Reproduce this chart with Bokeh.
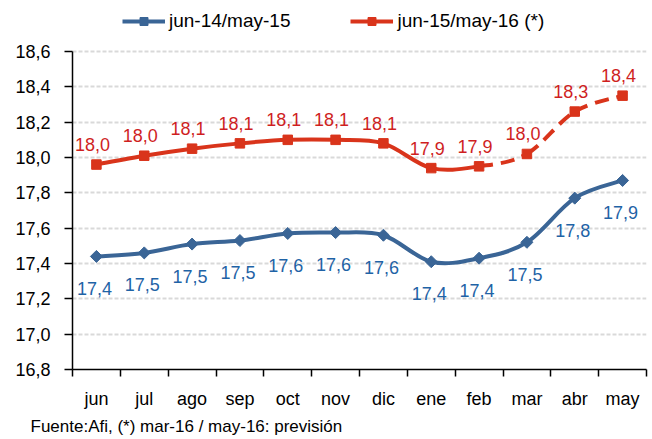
import numpy as np
from bokeh.plotting import figure
from bokeh.models import (Range1d, FixedTicker, CustomJSTickFormatter, Legend,
                          LegendItem, Title, ColumnDataSource)
from bokeh.core.properties import value
from bokeh.embed import file_html
from bokeh.resources import INLINE

# ---------------- data ----------------
months = ["jun", "jul", "ago", "sep", "oct", "nov", "dic", "ene", "feb", "mar", "abr", "may"]
serie_1415 = [17.44, 17.46, 17.51, 17.53, 17.57, 17.575, 17.56, 17.41, 17.43, 17.52, 17.77, 17.87]
serie_1516 = [17.96, 18.01, 18.05, 18.08, 18.10, 18.10, 18.08, 17.94, 17.95, 18.02, 18.26, 18.35]
labels_1415 = ["17,4", "17,5", "17,5", "17,5", "17,6", "17,6", "17,6", "17,4", "17,4", "17,5", "17,8", "17,9"]
labels_1516 = ["18,0", "18,0", "18,1", "18,1", "18,1", "18,1", "18,1", "17,9", "17,9", "18,0", "18,3", "18,4"]
forecast_from = "feb"          # dashed segment starts here (mar-16 / may-16 forecast)
y_ticks = [16.8, 17.0, 17.2, 17.4, 17.6, 17.8, 18.0, 18.2, 18.4, 18.6]
legend_names = ["jun-14/may-15", "jun-15/may-16 (*)"]
source_note = "Fuente:Afi, (*) mar-16 / may-16: previsión"

# ---------------- styles / layout ----------------
FONT = "Liberation Sans"
BLUE_LINE = "#3A6596"
BLUE_TEXT = "#1F63A6"
RED_LINE = "#D9341B"
RED_TEXT = "#CF1F1F"

W, H = 652, 439
BORDER_LEFT, BORDER_RIGHT, BORDER_BOTTOM = 72, 6, 70
AXIS_PX = 318                      # pixel height of the value axis (16.8 .. 18.6)
FRAME_PX = H - BORDER_BOTTOM       # frame extends to the top of the figure (room for legend)
y_lo, y_hi = y_ticks[0], y_ticks[-1]
y_top = y_lo + (y_hi - y_lo) * FRAME_PX / AXIS_PX

xs = np.arange(len(months), dtype=float)
nan_y = [np.nan] * len(months)


def smooth_segments(x, y):
    """Bezier segments (Catmull-Rom style) between consecutive data points."""
    x = np.asarray(x, float)
    y = np.asarray(y, float)
    n = len(x)
    out = {k: [] for k in ["x0", "y0", "x1", "y1", "cx0", "cy0", "cx1", "cy1"]}
    for i in range(n - 1):
        a = i - 1 if i > 0 else i
        d = i + 2 if i + 2 < n else i + 1
        out["x0"].append(x[i]); out["y0"].append(y[i])
        out["x1"].append(x[i + 1]); out["y1"].append(y[i + 1])
        out["cx0"].append(x[i] + (x[i + 1] - x[a]) / 6)
        out["cy0"].append(y[i] + (y[i + 1] - y[a]) / 6)
        out["cx1"].append(x[i + 1] - (x[d] - x[i]) / 6)
        out["cy1"].append(y[i + 1] - (y[d] - y[i]) / 6)
    return out


p = figure(width=W, height=H,
           x_range=Range1d(-0.5, len(months) - 0.5),
           y_range=Range1d(y_lo, y_top),
           output_backend="svg", toolbar_location=None,
           min_border_left=BORDER_LEFT, min_border_top=0,
           min_border_bottom=BORDER_BOTTOM, min_border_right=BORDER_RIGHT)
p.outline_line_color = None
p.background_fill_color = "white"
p.border_fill_color = "white"

# grid
p.xgrid.visible = False
p.ygrid.grid_line_color = "#D9D9D9"
p.ygrid.grid_line_width = 2
p.ygrid.grid_line_dash = "4 2"

# y axis
p.yaxis.ticker = FixedTicker(ticks=y_ticks, minor_ticks=[])
p.yaxis.bounds = (y_lo, y_hi)
p.yaxis.formatter = CustomJSTickFormatter(code="return tick.toFixed(1).replace('.', ',');")
p.yaxis.axis_line_color = "black"
p.yaxis.axis_line_width = 1.5
p.yaxis.major_tick_line_color = "black"
p.yaxis.major_tick_line_width = 1.5
p.yaxis.major_tick_out = 8
p.yaxis.major_tick_in = 0
p.yaxis.major_label_standoff = 14
p.yaxis.major_label_text_font = FONT
p.yaxis.major_label_text_font_size = "18px"
p.yaxis.major_label_text_color = "black"

# x axis
p.xaxis.ticker = FixedTicker(ticks=list(xs), minor_ticks=[i - 0.5 for i in range(len(months) + 1)])
p.xaxis.major_label_overrides = {float(i): m for i, m in enumerate(months)}
p.xaxis.axis_line_color = "black"
p.xaxis.axis_line_width = 1.5
p.xaxis.major_tick_line_color = None
p.xaxis.major_tick_out = 0
p.xaxis.major_tick_in = 0
p.xaxis.minor_tick_line_color = "black"
p.xaxis.minor_tick_line_width = 1.5
p.xaxis.minor_tick_out = 7
p.xaxis.minor_tick_in = 0
p.xaxis.major_label_standoff = 12
p.xaxis.major_label_text_font = FONT
p.xaxis.major_label_text_font_size = "18px"
p.xaxis.major_label_text_color = "black"

# blue series
seg_b = smooth_segments(xs, serie_1415)
p.bezier(x0="x0", y0="y0", x1="x1", y1="y1", cx0="cx0", cy0="cy0", cx1="cx1", cy1="cy1",
         source=ColumnDataSource(seg_b), line_color=BLUE_LINE, line_width=4, line_cap="round")
p.scatter(xs, serie_1415, marker="square", angle=np.pi / 4, size=8.5,
          fill_color=BLUE_LINE, line_color=BLUE_LINE)

# red series: solid then dashed forecast
seg_r = smooth_segments(xs, serie_1516)
k = months.index(forecast_from)
solid = {c: v[:k] for c, v in seg_r.items()}
dashed = {c: v[k:] for c, v in seg_r.items()}
p.bezier(x0="x0", y0="y0", x1="x1", y1="y1", cx0="cx0", cy0="cy0", cx1="cx1", cy1="cy1",
         source=ColumnDataSource(solid), line_color=RED_LINE, line_width=4, line_cap="round")
p.bezier(x0="x0", y0="y0", x1="x1", y1="y1", cx0="cx0", cy0="cy0", cx1="cx1", cy1="cy1",
         source=ColumnDataSource(dashed), line_color=RED_LINE, line_width=4, line_dash="14 8")
p.scatter(xs, serie_1516, marker="square", size=9.5, fill_color=RED_LINE, line_color=RED_LINE)

# data labels
p.text(xs, serie_1516, text=labels_1516, x_offset=-4, y_offset=-20,
       text_align="center", text_baseline="middle", text_color=RED_TEXT,
       text_font=value(FONT), text_font_size="18px")
p.text(xs, serie_1415, text=labels_1415, x_offset=-2, y_offset=32,
       text_align="center", text_baseline="middle", text_color=BLUE_TEXT,
       text_font=value(FONT), text_font_size="18px")

# legend (renderers with no visible points, used only for the legend glyphs)
lb_line = p.line(xs, nan_y, line_color=BLUE_LINE, line_width=4)
lb_mark = p.scatter(xs, nan_y, marker="square", angle=np.pi / 4, size=8.5,
                    fill_color=BLUE_LINE, line_color=BLUE_LINE)
lr_line = p.line(xs, nan_y, line_color=RED_LINE, line_width=4)
lr_mark = p.scatter(xs, nan_y, marker="square", size=9.5, fill_color=RED_LINE, line_color=RED_LINE)
legend = Legend(items=[LegendItem(label=legend_names[0], renderers=[lb_line, lb_mark]),
                       LegendItem(label=legend_names[1], renderers=[lr_line, lr_mark])],
                orientation="horizontal", location=(50, 337),
                glyph_width=43, glyph_height=20, label_height=20, label_standoff=4,
                spacing=60, padding=0, margin=0,
                border_line_color=None, background_fill_alpha=0,
                label_text_font=FONT, label_text_font_size="19px", label_text_color="black")
p.add_layout(legend)

# source note
p.add_layout(Title(text=source_note, align="left", offset=-42, standoff=7,
                   text_font=FONT, text_font_size="17px", text_font_style="normal",
                   text_color="black"), "below")

open("out.html", "w").write(file_html(p, INLINE))
